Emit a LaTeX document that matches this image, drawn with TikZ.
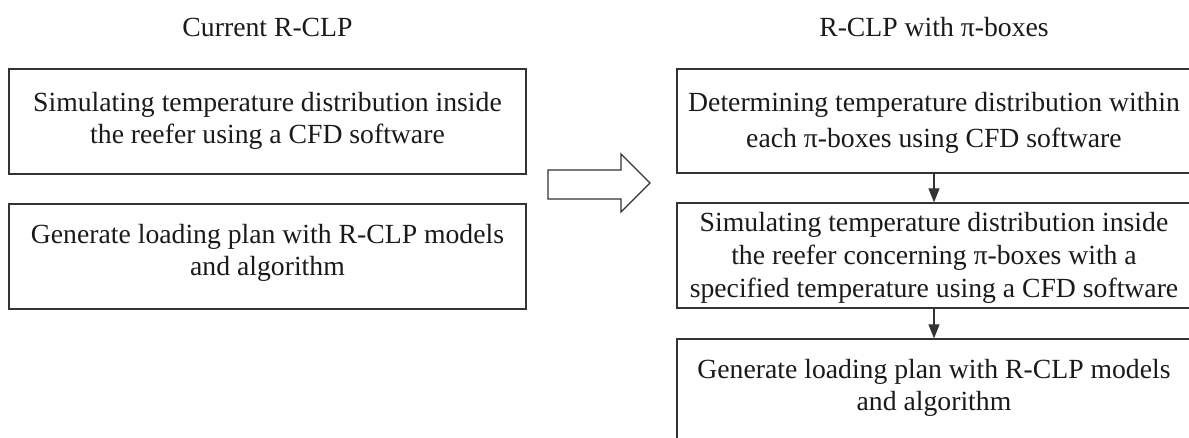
\documentclass[tikz,border=0pt]{standalone}
\usepackage{fontspec}
\setmainfont{Liberation Serif}
\usetikzlibrary{arrows.meta}
\definecolor{ln}{HTML}{333333}
\definecolor{tx}{HTML}{1A1A1A}
\tikzset{
  box/.style={draw=ln, line width=1.3pt, inner sep=0pt, rectangle, anchor=center},
  txt/.style={text=tx, align=center, inner sep=0pt, font=\fontsize{27.7}{32}\selectfont},
  arr/.style={draw=ln, line width=1.1pt, -{Triangle[width=11pt,length=14pt]}},
  bigarrow/.style={draw=ln, line width=1.4pt, fill=white, line join=miter}
}
\begin{document}
\begin{tikzpicture}[x=1pt,y=-1pt]
\useasboundingbox (0,0) rectangle (1189,438);
% titles
\node[txt] (t1) at (267.5,27) {Current R-CLP};
\node[txt] (t2) at (934,27) {R-CLP with π-boxes};
% left boxes
\node[box, minimum width=517pt, minimum height=105pt] (l1) at (267.5,121.5) {};
\node[box, minimum width=517pt, minimum height=105pt] (l2) at (267.5,256.5) {};
\node[txt] (l1t) at (267.5,121) {Simulating temperature distribution inside\\the reefer using a CFD software};
\node[txt] (l2t) at (267.5,252.5) {Generate loading plan with R-CLP models\\and algorithm};
% right boxes
\node[box, minimum width=514pt, minimum height=104pt] (ra) at (934,121) {};
\node[box, minimum width=514pt, minimum height=105pt] (rb) at (934,255.5) {};
\node[box, minimum width=514pt, minimum height=106pt] (rc) at (934,392) {};
\node[txt, font=\fontsize{27.7}{36}\selectfont] (rat) at (934,122.5) {Determining temperature distribution within\\each π-boxes using CFD software};
\node[txt, font=\fontsize{27.7}{33}\selectfont] (rbt) at (934,258) {Simulating temperature distribution inside\\the reefer concerning π-boxes with a\\specified temperature using a CFD software};
\node[txt] (rct) at (934,388) {Generate loading plan with R-CLP models\\and algorithm};
% connectors
\draw[arr] (ra.south) -- (rb.north);
\draw[arr] (rb.south) -- (rc.north);
% big hollow arrow
\draw[bigarrow] (548,170) -- (621,170) -- (621,154) -- (650,183) -- (621,212) -- (621,199) -- (548,199) -- cycle;
\end{tikzpicture}
\end{document}
